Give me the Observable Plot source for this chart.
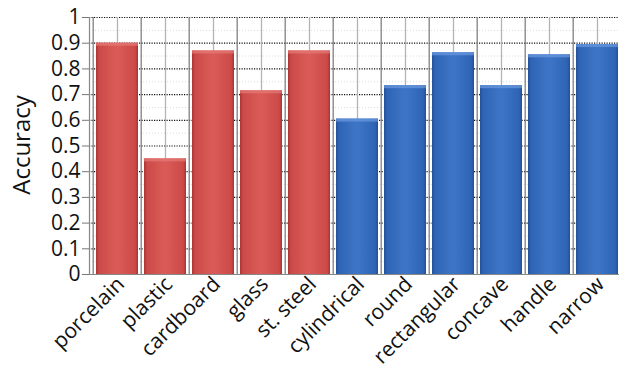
<!DOCTYPE html>
<html>
<head>
<meta charset="utf-8">
<script src="https://cdn.jsdelivr.net/npm/d3@7"></script>
<script src="https://cdn.jsdelivr.net/npm/@observablehq/plot@0.6"></script>
<style>
  html, body { margin: 0; padding: 0; background: #fff; }
  #chart { width: 619px; height: 374px; overflow: hidden; }
</style>
</head>
<body>
<div id="chart"></div>
<script>
const categories = ["porcelain", "plastic", "cardboard", "glass", "st. steel", "cylindrical", "round", "rectangular", "concave", "handle", "narrow"];
const values = [0.9, 0.45, 0.87, 0.715, 0.87, 0.605, 0.735, 0.863, 0.735, 0.855, 0.895];
const groups = ["material", "material", "material", "material", "material", "shape", "shape", "shape", "shape", "shape", "shape"];
const yTicks = [0, 0.1, 0.2, 0.3, 0.4, 0.5, 0.6, 0.7, 0.8, 0.9, 1];
const yTickLabels = ["0", "0.1", "0.2", "0.3", "0.4", "0.5", "0.6", "0.7", "0.8", "0.9", "1"];
const minorTicks = [0.05, 0.15, 0.25, 0.35, 0.45, 0.55, 0.65, 0.75, 0.85, 0.95];

const data = categories.map((c, i) => ({category: c, value: values[i], group: groups[i]}));

const W = 619, H = 374;
const xRange = [89, 624];
const step = (xRange[1] - xRange[0]) / categories.length;
const font = "'Open Sans', Lato, sans-serif";

const chart = Plot.plot({
  width: W,
  height: H,
  marginLeft: 89,
  marginRight: 0,
  marginTop: 17,
  marginBottom: 100,
  style: {fontFamily: font, background: "white", overflow: "visible"},
  x: {domain: categories, range: xRange, padding: 0.13, axis: null},
  y: {domain: [0, 1], axis: null},
  marks: [
    Plot.ruleY(minorTicks, {stroke: "#dcdcdc", strokeDasharray: "1,2", strokeWidth: 1}),
    Plot.ruleY(yTicks.slice(1), {stroke: "#111", strokeDasharray: "1.2,1.3", strokeWidth: 1.2}),
    Plot.ruleX(categories, {x: d => d, y1: 0, y2: 1, stroke: "#b4b4b4", strokeWidth: 1.3}),
    Plot.barY(data, {x: "category", y: "value", fill: d => d.group === "material" ? "url(#gradRed)" : "url(#gradBlue)"}),
    Plot.barY(data, {x: "category", y1: d => d.value - 0.012, y2: "value", fill: d => d.group === "material" ? "#e57b78" : "#6b9ae0", fillOpacity: 0.7}),
    Plot.ruleY([0], {stroke: "#888", strokeWidth: 1.2}),
    Plot.tickX(categories, {x: d => d, dx: -step / 2, stroke: "#777", strokeWidth: 1.2}),
    Plot.axisY({ticks: yTicks, tickFormat: (d, i) => yTickLabels[i], tickSize: 7, tickPadding: 2, fontSize: 21, stroke: "#777", color: "#111", label: null}),
    Plot.frame({anchor: "left", stroke: "#888", strokeWidth: 1.2}),
    Plot.text(categories, {x: d => d, frameAnchor: "bottom", text: d => d, rotate: -45, textAnchor: "end", dx: 8, dy: 11, fontSize: 21, fill: "#111"})
  ]
});

const svg = d3.select(chart.tagName.toLowerCase() === "svg" ? chart : chart.querySelector("svg"));
const defs = svg.insert("defs", ":first-child");
function grad(id, edge, mid, light) {
  const g = defs.append("linearGradient").attr("id", id).attr("x1", "0").attr("x2", "1").attr("y1", "0").attr("y2", "0");
  [[0, edge], [0.07, mid], [0.45, light], [0.55, light], [0.93, mid], [1, edge]].forEach(([o, c]) =>
    g.append("stop").attr("offset", o).attr("stop-color", c));
}
grad("gradRed", "#a83434", "#cc4a48", "#d95a57");
grad("gradBlue", "#23509a", "#2f64b4", "#3c74c6");

svg.append("text")
  .attr("transform", `translate(24, 145) rotate(-90)`)
  .attr("text-anchor", "middle")
  .attr("dominant-baseline", "middle")
  .attr("font-family", font)
  .attr("font-size", 24)
  .attr("fill", "#111")
  .text("Accuracy");

document.getElementById("chart").appendChild(chart);
</script>
</body>
</html>
